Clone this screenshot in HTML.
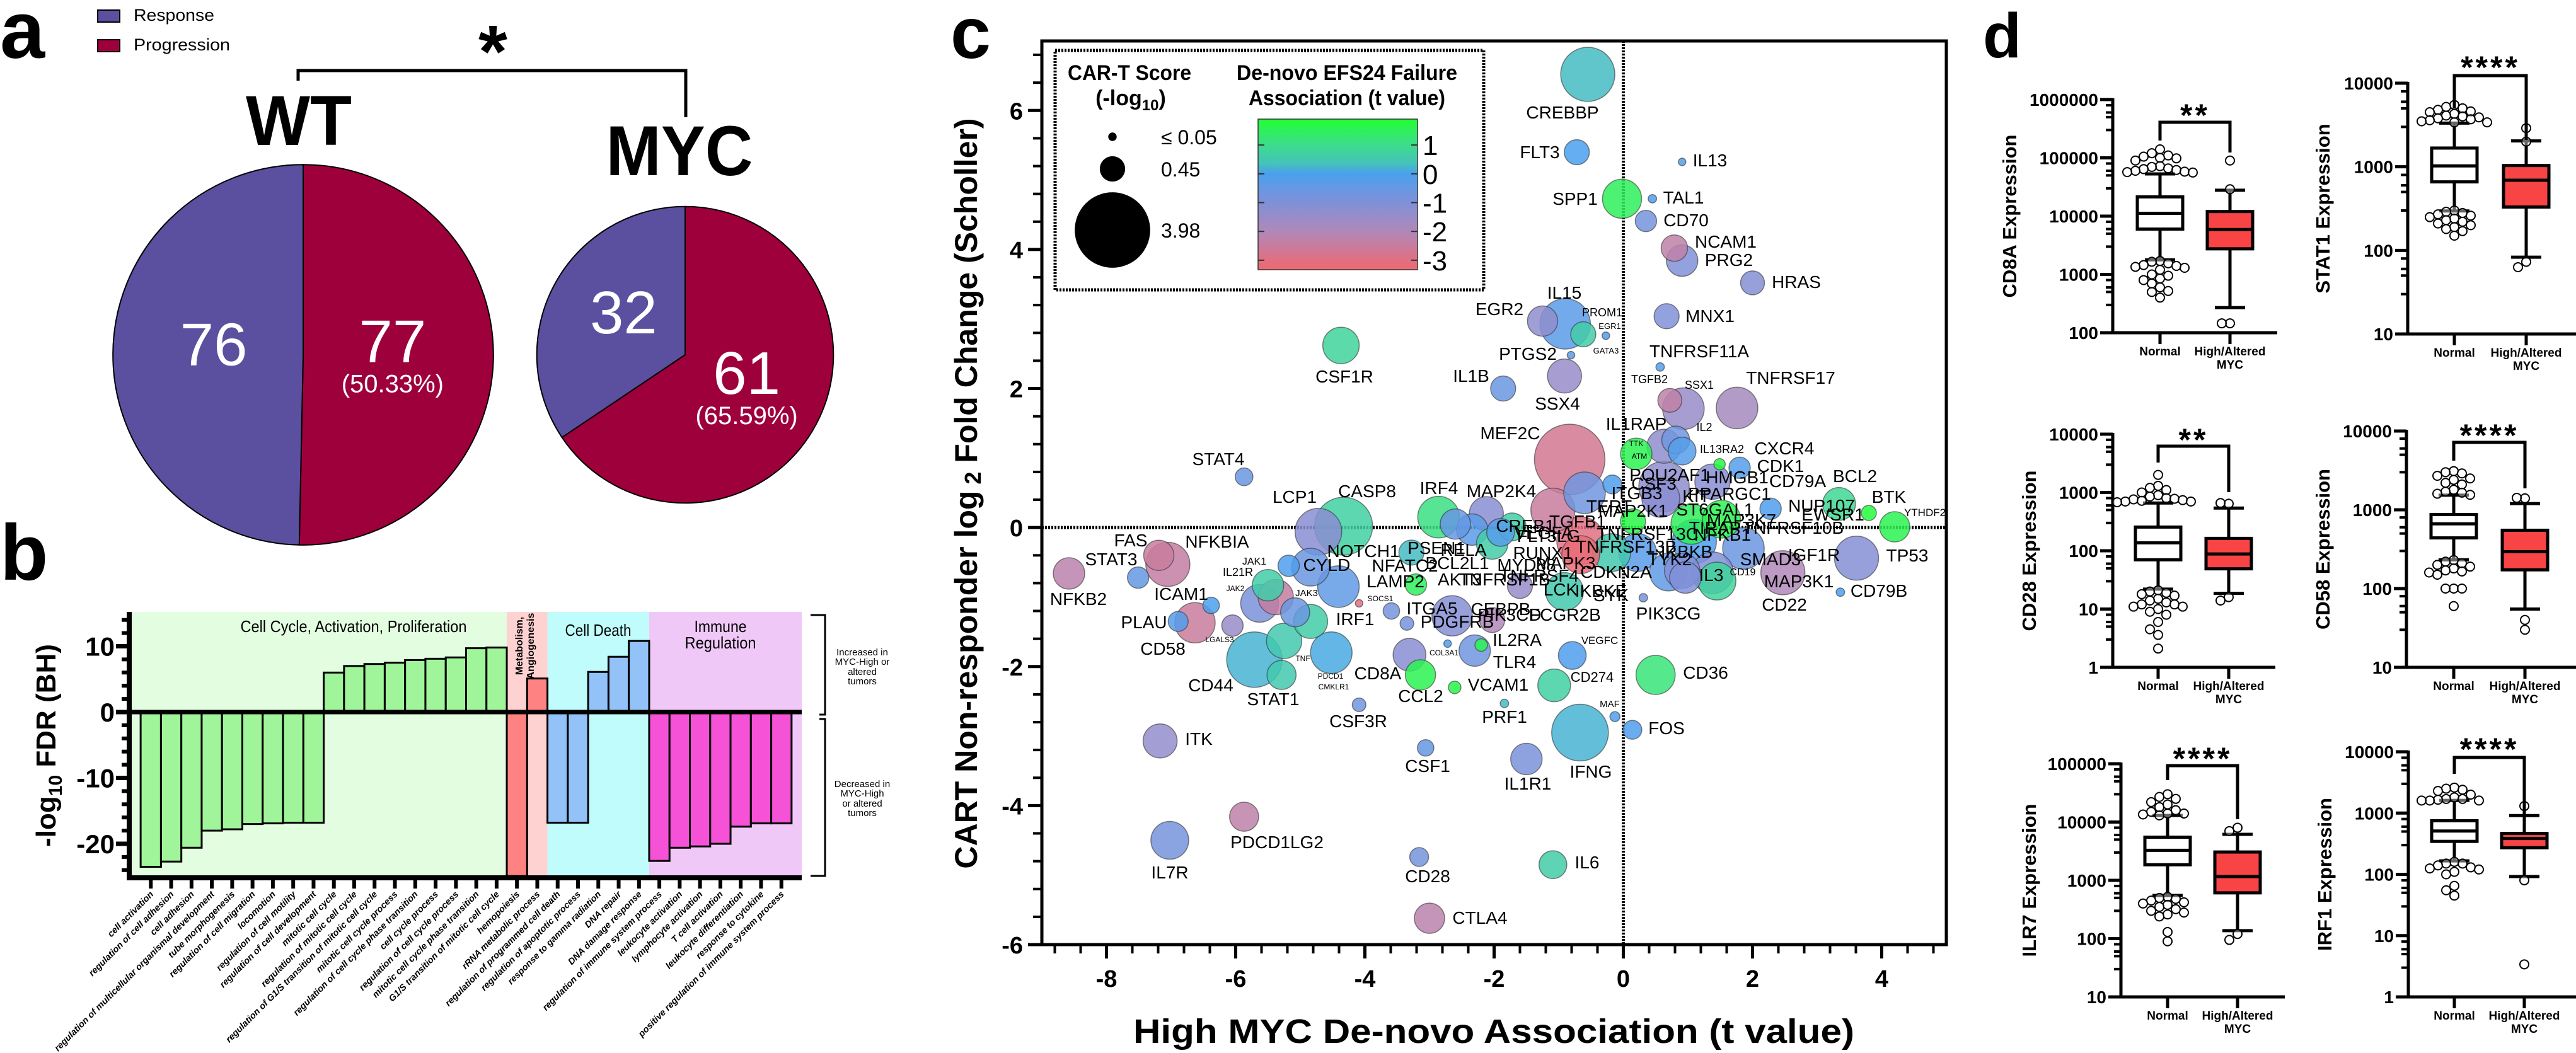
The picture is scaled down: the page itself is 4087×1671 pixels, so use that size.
<!DOCTYPE html>
<html><head><meta charset="utf-8"><title>MYC figure</title>
<style>
html,body{margin:0;padding:0;background:#fff;}
svg{display:block;font-family:"Liberation Sans",Arial,sans-serif;}
</style></head>
<body>
<svg id="fig" width="4087" height="1671" viewBox="0 0 4087 1671" xmlns="http://www.w3.org/2000/svg">
<defs>
<linearGradient id="cbar" x1="0" y1="0" x2="0" y2="1">
<stop offset="0" stop-color="#22ff33"/>
<stop offset="0.172" stop-color="#3ddc8c"/>
<stop offset="0.29" stop-color="#44c4b8"/>
<stop offset="0.363" stop-color="#4aa0ee"/>
<stop offset="0.554" stop-color="#8090d8"/>
<stop offset="0.746" stop-color="#b088b8"/>
<stop offset="1" stop-color="#f06870"/>
</linearGradient>
</defs>
<rect x="0" y="0" width="4087" height="1671" fill="#fff"/>

<!-- Panel a static -->
<g>
<text x="0" y="92" font-size="128" font-weight="bold">a</text>
<rect x="155" y="16" width="35" height="19" fill="#5b4f9f" stroke="#000" stroke-width="2"/>
<text x="212" y="33" font-size="27" textLength="128" lengthAdjust="spacingAndGlyphs">Response</text>
<rect x="155" y="63" width="35" height="19" fill="#9e003c" stroke="#000" stroke-width="2"/>
<text x="212" y="80" font-size="27" textLength="153" lengthAdjust="spacingAndGlyphs">Progression</text>
<text x="782" y="122" font-size="118" font-weight="bold" text-anchor="middle">*</text>
<path d="M473 128 V112 H1088 V186" fill="none" stroke="#000" stroke-width="5"/>
<text x="474" y="230" font-size="112" font-weight="bold" text-anchor="middle" textLength="168" lengthAdjust="spacingAndGlyphs">WT</text>
<text x="1078" y="278" font-size="112" font-weight="bold" text-anchor="middle" textLength="233" lengthAdjust="spacingAndGlyphs">MYC</text>
<g id="pies"></g>
</g>

<!-- Panel b static -->
<g>
<text x="0" y="920" font-size="125" font-weight="bold">b</text>
<g id="bchart"></g>
<text transform="translate(88,1183) rotate(-90)" font-size="44" font-weight="bold" text-anchor="middle">-log<tspan font-size="30" dy="10">10</tspan><tspan dy="-10"> FDR (BH)</tspan></text>
<path d="M1286 976 H1309 V1134 H1300 M1300 1141 H1309 V1390 H1286" fill="none" stroke="#000" stroke-width="3"/>
<g font-size="15" text-anchor="middle">
<text x="1368" y="1040">Increased in</text><text x="1368" y="1055">MYC-High or</text><text x="1368" y="1071">altered</text><text x="1368" y="1086">tumors</text>
</g>
<g font-size="15" text-anchor="middle">
<text x="1368" y="1249">Decreased in</text><text x="1368" y="1264">MYC-High</text><text x="1368" y="1280">or altered</text><text x="1368" y="1295">tumors</text>
</g>
</g>

<!-- Panel c static -->
<g>
<text x="1508" y="92" font-size="115" font-weight="bold">c</text>
<g id="cchart"></g>
<text x="2370" y="1655" font-size="54" font-weight="bold" text-anchor="middle" textLength="1144" lengthAdjust="spacingAndGlyphs">High MYC De-novo Association (t value)</text>
<text transform="translate(1550,783) rotate(-90)" font-size="50" font-weight="bold" text-anchor="middle">CART Non-responder log<tspan font-size="36" dy="6"> 2</tspan><tspan dy="-6"> Fold Change (Scholler)</tspan></text>
<rect x="1674" y="80" width="680" height="380" fill="#fff" stroke="#000" stroke-width="5" stroke-dasharray="3 2"/>
<text x="1792" y="127" font-size="34" font-weight="bold" text-anchor="middle" textLength="196" lengthAdjust="spacingAndGlyphs">CAR-T Score</text>
<text x="1794" y="167" font-size="34" font-weight="bold" text-anchor="middle">(-log<tspan font-size="24" dy="8">10</tspan><tspan dy="-8">)</tspan></text>
<text x="2137" y="127" font-size="34" font-weight="bold" text-anchor="middle" textLength="350" lengthAdjust="spacingAndGlyphs">De-novo EFS24 Failure</text>
<text x="2137" y="167" font-size="34" font-weight="bold" text-anchor="middle" textLength="312" lengthAdjust="spacingAndGlyphs">Association (t value)</text>
<rect x="1996" y="189" width="253" height="239" fill="url(#cbar)" stroke="#333" stroke-width="1.5"/>
<g id="clegend"></g>
</g>

<!-- Panel d static -->
<g>
<text x="3146" y="91" font-size="100" font-weight="bold">d</text>
<g id="dcharts"></g>
</g>
</svg>

<script>
// ================= DATA =================
// Panel a
const pieGroups = ['WT', 'MYC'];
const pieResponse = [76, 32];
const pieProgression = [77, 61];

// Panel b
const pathwayNames = ['cell activation','regulation of cell adhesion','cell adhesion','regulation of multicellular organismal development','tube morphogenesis','regulation of cell migration','locomotion','regulation of cell motility','regulation of cell development','mitotic cell cycle','regulation of mitotic cell cycle','regulation of G1/S transition of mitotic cell cycle','mitotic cell cycle process','regulation of cell cycle phase transition','cell cycle process','regulation of cell cycle process','mitotic cell cycle phase transition','G1/S transition of mitotic cell cycle','hemopoiesis','rRNA metabolic process','regulation of programmed cell death','regulation of apoptotic process','response to gamma radiation','DNA repair','DNA damage response','regulation of immune system process','leukocyte activation','lymphocyte activation','T cell activation','leukocyte differentiation','response to cytokine','positive regulation of immune system process'];
const pathwayValues = [-23.5,-22.7,-20.6,-18,-17.8,-17,-16.9,-16.8,-16.8,6,7,7.3,7.5,7.9,8.1,8.3,9.7,9.8,-24.9,5.1,-16.8,-16.8,6.1,8.4,10.8,-22.6,-20.6,-20.4,-20,-17.4,-16.9,-16.9];
const groupNames = ['Cell Cycle, Activation, Proliferation','Metabolism, Angiogenesis','Cell Death','Immune Regulation'];
const groupSizes = [18, 2, 5, 7];
const bYTicks = [-20, -10, 0, 10];

// Panel c
const geneNames = ['CREBBP','FLT3','SPP1','CSF1R','EGR2','IL15','PROM1','EGR1','PTGS2','SSX4','IL1B','STAT4','MEF2C','TTK','LCP1','CASP8','IRF4','MAP2K4','NFKB2','FAS','NFKBIA','STAT3','ICAM1','CD58','PLAU','LGALS3','JAK1','IL21R','JAK2','TNFAIP3','JAK3','IL10','CYLD','NOTCH1','STAT1','CD44','TNF','PDCD1','SOCS1','IRF1','PDGFRB','ITGA5','CD8A','CCL2','VCAM1','COL3A1','TLR4','IL2RA','CD274','CD40','PRF1','CSF3R','MAF','IFNG','FOS','CD36','ITK','CSF1','IL1R1','PDCD1LG2','IL7R','CD28','IL6','CTLA4','LAMP2','IL13','TAL1','CD70','NCAM1','PRG2','HRAS','MNX1','TNFRSF11A','SSX1','IL2RG','TNFRSF17','IL1RAP','IL2','IL13RA1','IL13RA2','CDK1','BCL2','BTK','YTHDF2','TP53','CD79B','MAP3K1','PIK3CG','NUP107','POU2AF1','HMGB1','CD22','IKBKB','IL3','CD19','ST6GAL1','MAP3K7','TIRAP','ITGB3','TERT','MYC','KIT','FLT3LG','VEGFA','CREB1','RUNX1','MYD88','LCK','TNFRSF1B','CEBPB','PIK3CD','TLR9','PPARG','CSF3','IGF1R','SMAD3','AKT3','NOTCH2'];
const geneT = [-0.55,-0.72,-0.02,-4.37,-1.25,-0.9,-0.62,-0.27,-0.81,-0.91,-1.86,-5.87,-0.83,0.2,-4.72,-4.33,-2.86,-2.12,-8.58,-7.19,-7.05,-7.51,-6.38,-6.63,-6.89,-6.05,-5.18,-5.63,-5.5,-5.38,-5.08,-4.84,-4.84,-4.41,-5.25,-5.71,-5.29,-4.52,-4.09,-3.59,-3.35,-2.65,-3.31,-3.14,-2.61,-2.72,-2.3,-2.2,-0.79,-1.07,-1.84,-4.09,-0.13,-0.67,0.14,0.5,-7.17,-3.06,-1.5,-5.87,-7.02,-3.16,-1.09,-3.0,-3.21,0.91,0.45,0.35,0.79,0.91,2.0,0.67,0.57,0.72,0.93,1.76,0.63,0.81,0.91,1.49,1.8,3.34,3.8,4.2,3.61,3.36,2.47,0.31,2.28,0.63,1.38,1.86,0.91,1.38,1.45,1.1,1.05,1.52,0.22,-0.18,-1.09,-0.6,-0.66,-0.66,-2.34,-1.72,-2.03,-1.9,-0.91,-1.6,-2.03,0.15,0.58,-0.17,0.7,0.96,-2.6,-3.28];
const geneFC = [6.52,5.4,4.73,2.62,2.97,2.93,2.78,2.76,2.48,2.18,2.0,0.73,0.98,1.06,-0.06,0.02,0.15,0.2,-0.66,-0.4,-0.53,-0.72,-1.12,-1.37,-1.35,-1.41,-0.55,-1.09,-0.83,-1.0,-1.22,-1.35,-0.57,-0.85,-1.63,-1.9,-2.12,-1.8,-1.09,-1.2,-1.38,-1.27,-1.83,-2.12,-2.3,-1.67,-1.77,-1.69,-1.84,-2.27,-2.53,-2.55,-2.72,-2.95,-2.91,-2.12,-3.07,-3.17,-3.33,-4.16,-4.5,-4.74,-4.85,-5.62,-0.82,5.26,4.73,4.41,4.02,3.84,3.52,3.04,2.31,1.83,1.71,1.72,1.17,1.26,1.1,0.91,0.86,0.34,0.21,0.01,-0.44,-0.93,-0.65,-1.01,0.27,0.59,0.66,-0.3,-0.62,-0.65,-0.77,-0.2,0.05,0.12,-0.36,-0.36,0.25,0.5,-0.19,-0.39,-0.03,0.01,-0.23,-0.07,-0.92,-0.84,-1.33,0.09,0.42,0.62,-0.64,-0.72,0.05,-0.36];
const geneScore = [2.05,0.44,1.07,0.93,0.64,1.78,0.44,0.04,0.04,0.81,0.44,0.22,3.48,0.69,1.52,2.35,1.21,0.81,0.69,0.64,1.36,0.32,0.19,1.14,0.28,0.32,0.32,1.0,0.69,0.87,0.59,0.81,1.0,1.21,0.87,2.15,0.59,1.21,0.04,0.19,0.13,1.14,0.75,0.64,0.11,0.04,0.69,0.11,0.54,0.75,0.05,0.13,0.07,2.25,0.25,1.07,0.81,0.19,0.69,0.59,1.0,0.25,0.54,0.64,0.32,0.04,0.05,0.32,0.49,0.69,0.4,0.44,0.05,0.4,1.21,1.21,0.81,0.54,0.54,0.09,0.32,0.75,0.16,0.64,1.36,0.05,1.36,0.05,0.32,1.78,0.87,1.21,0.87,1.21,1.0,1.36,1.14,1.0,1.0,1.0,1.36,1.21,1.6,1.0,0.69,0.54,0.69,0.54,1.0,0.44,0.44,0.44,1.0,0.25,1.0,0.69,0.64,0.44];
const geneEFS = [0.3,0,1.5,0.8,-1.3,-0.3,0.6,-0.2,-0.3,-1.5,-0.6,-0.6,-2.7,1.6,-1.2,0.7,1.1,-1.2,-2.2,-2.5,-2.4,-0.5,0,-2.5,-0.2,-1.5,-0.1,-0.9,0.6,-2.4,-0.6,0.6,-0.6,-0.4,0.5,0.2,0.5,0.1,-3,-0.8,-0.8,-1.1,-1.2,1.6,1.7,-0.1,-0.7,1.6,-0.1,0.7,0.3,-0.7,-0.1,0.2,-0.1,1.2,-1.4,-0.5,-0.9,-2.3,-0.8,-0.8,0.6,-2.2,1.5,-0.2,-0.1,-0.8,-2.3,-1.0,-1.1,-1.0,-0.2,-2.3,-1.5,-1.8,-1.3,-0.7,-0.2,1.8,-0.2,0.9,1.8,1.6,-1.1,0,-2.0,-0.8,-0.1,-1.3,-1.2,-0.6,-1.0,-1.0,0.8,-0.1,1.5,1.6,-0.3,0.5,-2.5,-0.7,-3.0,-3.2,-0.3,0.6,0.6,-0.2,0.5,-1.5,-2.0,1.7,-1.2,-0.1,-0.4,-1.0,-0.5,0.3];
const cXTicks = [-8,-6,-4,-2,0,2,4];
const cYTicks = [-6,-4,-2,0,2,4,6];
const sizeLegendScores = [0.05, 0.45, 3.98];
const sizeLegendText = ['\u2264  0.05','0.45','3.98'];
const colorTicks = [1, 0, -1, -2, -3];

// Panel d (box stats: [lower whisker, Q1, median, Q3, upper whisker])
const dTitles = ['CD8A Expression','STAT1 Expression','CD28 Expression','CD58 Expression','ILR7 Expression','IRF1 Expression'];
const dStars = ['**','****','**','****','****','****'];
const cd8aNormal = [1780, 6000, 11200, 21400, 53000];
const cd8aMyc = [270, 2750, 5900, 12000, 27800];
const cd8aNormalOut = [140000,120000,110000,105000,100000,98000,90000,72000,70000,66000,64000,62000,60000,58000,57000,56000,1700,1650,1550,1450,1400,1350,1300,1200,1000,950,850,800,700,600,520,500,400];
const cd8aMycOut = [90000, 29000, 145, 145];
const stat1Normal = [296, 660, 1025, 1675, 3330];
const stat1Myc = [83, 330, 690, 1035, 2040];
const stat1NormalOut = [5500,5200,5000,4800,4600,4500,4300,4100,4000,3900,3800,3700,3600,3500,3400,3400,300,290,280,270,260,250,240,230,220,210,200,190,180,170,150];
const stat1MycOut = [2900, 2000, 73, 63];
const cd28Normal = [22, 70, 137, 255, 660];
const cd28Myc = [18.6, 49, 88, 163, 540];
const cd28NormalOut = [2000,1300,1200,1100,1000,900,850,800,780,760,740,720,700,700,680,21,20,19,18,17,15,14,13,12,12,11,11,10,9,8,6,4.5,3.6,2.1];
const cd28MycOut = [640, 660, 16, 14];
const cd58Normal = [232, 440, 663, 870, 1535];
const cd58Myc = [55, 173, 294, 550, 1200];
const cd58NormalOut = [3100,3000,2900,2700,2500,2400,2200,2100,1800,1700,1650,1600,1550,230,220,210,200,190,180,170,165,160,150,100,100,100,60];
const cd58MycOut = [1400, 1420, 40, 30];
const ilr7Normal = [550, 1850, 3270, 5500, 13000];
const ilr7Myc = [137, 610, 1160, 3060, 6150];
const ilr7NormalOut = [30000,27000,25000,22000,20000,18000,16000,15000,14000,14000,13500,13000,520,500,480,450,420,400,380,350,320,300,280,260,240,130,90];
const ilr7MycOut = [8000, 7000, 120, 95];
const irf1Normal = [166, 345, 510, 750, 1610];
const irf1Myc = [92, 272, 385, 465, 910];
const irf1NormalOut = [2600,2500,2400,2300,2000,1800,1700,1700,1650,1600,1600,1600,160,150,150,140,130,125,120,110,100,65,55,45];
const irf1MycOut = [1300, 80, 3.4];

// ================= HELPERS =================
const NS = 'http://www.w3.org/2000/svg';
function mk(tag, attrs, parent) {
  const e = document.createElementNS(NS, tag);
  for (const k in attrs) e.setAttribute(k, attrs[k]);
  parent.appendChild(e);
  return e;
}
function slug(s){return s.toLowerCase().replace(/[^a-z0-9]+/g,'-').replace(/^-|-$/g,'');}

// ================= PANEL A =================
(function(){
  const g = document.getElementById('pies');
  const centersX = [481, 1087];
  const centerY = 563;
  function pt(cx, cy, r, frac){const a=frac*2*Math.PI;return [cx+r*Math.sin(a), cy-r*Math.cos(a)];}
  pieGroups.forEach((name, i) => {
    const total = pieResponse[i] + pieProgression[i];
    const r = 24.4 * Math.sqrt(total);
    const cx = centersX[i];
    const fp = pieProgression[i] / total;
    const p1 = pt(cx, centerY, r, fp);
    const large = fp > 0.5 ? 1 : 0;
    let el = mk('path', {d:`M${cx} ${centerY} L${cx} ${centerY-r} A${r} ${r} 0 ${large} 1 ${p1[0]} ${p1[1]} Z`, fill:'#9e003c', stroke:'#000', 'stroke-width':2}, g);
    
    
    el = mk('path', {d:`M${cx} ${centerY} L${p1[0]} ${p1[1]} A${r} ${r} 0 ${1-large} 1 ${cx} ${centerY-r} Z`, fill:'#5b4f9f', stroke:'#000', 'stroke-width':2}, g);
    
    
    const mp = pt(cx, centerY, r*0.47, fp/2);
    const mr = pt(cx, centerY, r*0.47, fp + (1-fp)/2);
    el = mk('text', {x:mp[0], y:mp[1]+10, 'font-size':96, fill:'#fff', 'text-anchor':'middle'}, g);
    el.textContent = pieProgression[i];
    
    
    el = mk('text', {x:mp[0], y:mp[1]+58, 'font-size':40, fill:'#fff', 'text-anchor':'middle'}, g);
    el.textContent = '(' + (100*fp).toFixed(2) + '%)';
    
    
    el = mk('text', {x:mr[0], y:mr[1]+18, 'font-size':96, fill:'#fff', 'text-anchor':'middle'}, g);
    el.textContent = pieResponse[i];
    
    
  });
})();

// ================= PANEL B =================
(function(){
  const g = document.getElementById('bchart');
  const x0 = 207, x1 = 1272, yTop = 971, yBot = 1390;
  const n = pathwayValues.length;
  const slot = (x1 - x0) / (n + 1);
  const yv = v => 1130 - v * 10.45;
  const bx = i => x0 + slot/2 + i*slot;
  const bgFill = ['#e2fde0','#ffd2d2','#c0fcfc','#f0c8f8'];
  const barFill = ['#a0f59a','#ff8282','#92c2f8','#f552d8'];
  const grpOf = [];
  groupSizes.forEach((s, gi) => { for (let k=0;k<s;k++) grpOf.push(gi); });
  // backgrounds
  let start = 0;
  groupSizes.forEach((s, gi) => {
    const xa = gi===0 ? x0 : bx(start);
    const xb = gi===groupSizes.length-1 ? x1 : bx(start+s);
    const el = mk('rect', {x:xa, y:yTop, width:xb-xa, height:yBot-yTop, fill:bgFill[gi]}, g);
    
    
    start += s;
  });
  // bars
  pathwayValues.forEach((v, i) => {
    const ya = Math.min(yv(0), yv(v)), yb = Math.max(yv(0), yv(v));
    const el = mk('rect', {x:bx(i), y:ya, width:slot, height:yb-ya, fill:barFill[grpOf[i]], stroke:'#000', 'stroke-width':3}, g);
    
    
  });
  // zero line
  let el = mk('line', {x1:x0, x2:x1, y1:yv(0), y2:yv(0), stroke:'#000', 'stroke-width':7}, g);
  
  
  // axes
  el = mk('line', {x1:205, x2:205, y1:yTop, y2:yBot+7, stroke:'#000', 'stroke-width':8}, g);
  
  
  el = mk('line', {x1:201, x2:x1, y1:yBot+3, y2:yBot+3, stroke:'#000', 'stroke-width':8}, g);
  
  
  for (let v=-24; v<=14; v+=2) {
    const major = v % 10 === 0;
    el = mk('line', {x1:major?184:193, x2:205, y1:yv(v), y2:yv(v), stroke:'#000', 'stroke-width':major?7:6}, g);
    
    
  }
  bYTicks.forEach(v => {
    el = mk('text', {x:182, y:yv(v)+15, 'font-size':42, 'font-weight':'bold', 'text-anchor':'end'}, g);
    el.textContent = String(v);
    
    
  });
  pathwayNames.forEach((name, i) => {
    const cx = bx(i) + slot/2;
    el = mk('line', {x1:cx, x2:cx, y1:yBot+5, y2:yBot+20, stroke:'#000', 'stroke-width':6}, g);
    
    
    el = mk('text', {transform:`translate(${cx+5},${yBot+30}) rotate(-45)`, 'font-size':14.5, 'font-style':'italic', 'font-weight':'bold', 'text-anchor':'end'}, g);
    el.textContent = name;
    
    
  });
  // group titles
  el = mk('text', {x:561, y:1003, 'font-size':26, 'text-anchor':'middle', textLength:359, lengthAdjust:'spacingAndGlyphs'}, g);
  el.textContent = groupNames[0];
  
  
  el = mk('text', {transform:'translate(829,1025) rotate(-90)', 'font-size':16, 'font-weight':'bold', 'text-anchor':'middle'}, g);
  el.textContent = 'Metabolism,';
  
  
  el = mk('text', {transform:'translate(847,1025) rotate(-90)', 'font-size':16, 'font-weight':'bold', 'text-anchor':'middle'}, g);
  el.textContent = 'Angiogenesis';
  
  
  el = mk('text', {x:949, y:1009, 'font-size':26, 'text-anchor':'middle', textLength:105, lengthAdjust:'spacingAndGlyphs'}, g);
  el.textContent = 'Cell Death';
  
  
  el = mk('text', {x:1143, y:1003, 'font-size':26, 'text-anchor':'middle', textLength:83, lengthAdjust:'spacingAndGlyphs'}, g);
  el.textContent = 'Immune';
  
  
  el = mk('text', {x:1143, y:1029, 'font-size':26, 'text-anchor':'middle', textLength:113, lengthAdjust:'spacingAndGlyphs'}, g);
  el.textContent = 'Regulation';
  
  
})();

// ================= PANEL C =================
const cLabelLayout = [
 ['CREBBP',2479,188,28],['FLT3',2443,251,28],['SPP1',2499,325,28],['CSF1R',2133,607,28],['EGR2',2379,500,28],['IL15',2482,474,28],
 ['PROM1',2542,502,18],['EGR1',2554,522,13],['GATA3',2548,561,13],['PTGS2',2424,571,28],['IL1B',2334,606,28],['SSX4',2471,650,28],
 ['TGFB2',2617,608,18],['MEF2C',2396,697,28],['IL1RAP',2596,682,28],['STAT4',1933,738,28],['LCP1',2054,798,28],['CASP8',2169,789,28],
 ['IRF4',2283,784,28],['MAP2K4',2382,789,28],['TTK',2596,708,12],['ATM',2601,728,12],
 ['NFKB2',1711,960,28],['FAS',1794,867,28],['NFKBIA',1931,869,28],['STAT3',1763,897,28],['ICAM1',1874,952,28],['PLAU',1815,997,28],
 ['CD58',1845,1039,28],['LGALS3',1935,1019,12],['JAK1',1990,896,16],['IL21R',1964,914,18],['JAK2',1960,938,12],['JAK3',2073,946,15],
 ['SOCS1',2190,954,12],['TNF',2067,1049,12],['PDCD1',2111,1077,12],['CMKLR1',2116,1094,12],['CD44',1921,1097,28],['STAT1',2020,1119,28],
 ['IRF1',2150,992,28],['ITGA5',2272,975,28],['PDGFRB',2312,996,28],['CD8A',2186,1078,28],['COL3A1',2291,1040,12],['IL2RA',2407,1025,28],
 ['TLR4',2403,1060,28],['VEGFC',2538,1022,17],['CD274',2526,1082,22],['CCL2',2254,1114,28],['VCAM1',2377,1096,28],['PRF1',2387,1147,28],
 ['CSF3R',2155,1154,28],['MAF',2554,1122,15],['FOS',2644,1165,28],['IFNG',2524,1234,28],['IL1R1',2424,1253,28],['CSF1',2265,1225,28],
 ['ITK',1902,1182,28],['PDCD1LG2',2026,1346,28],['IL7R',1856,1394,28],['CD28',2265,1400,28],['IL6',2518,1378,28],['CTLA4',2348,1466,28],
 ['LAMP2',2214,932,28],['AKT3',2316,929,28],['RUNX1',2448,887,28],['CYLD',2105,906,28],['NFATC2',2229,907,28],['NOTCH1',2163,884,28],
 ['PSEN1',2279,879,28],['RELA',2322,882,28],['BCL2L1',2312,903,28],['MYD88',2422,906,28],['TNFRSF1B',2387,929,28],['CREB1',2420,844,28],
 ['VEGFA',2449,855,28],['FLT3LG',2457,860,28],['LCK',2476,945,28],['IKBKE',2540,947,28],['SYK',2556,954,28],['FCGR2B',2483,985,28],
 ['CEBPB',2381,976,28],['PIK3CD',2395,985,28],
 ['IL13',2713,264,28],['TAL1',2671,323,28],['CD70',2675,359,28],['NCAM1',2738,393,28],['PRG2',2743,422,28],['HRAS',2850,457,28],
 ['MNX1',2713,511,28],['TNFRSF11A',2696,567,28],['SSX1',2696,617,18],['TNFRSF17',2841,609,28],['IL2',2704,684,18],['IL13RA2',2732,719,18],
 ['CXCR4',2831,721,28],['CDK1',2825,749,28],['POU2AF1',2649,763,28],['HMGB1',2756,767,28],['CD79A',2852,773,28],['BCL2',2943,765,28],
 ['CSF3',2624,777,28],['ITGB3',2597,792,28],['KIT',2691,797,28],['PPARGC1',2744,793,28],['BTK',2997,798,28],['YTHDF2',3054,819,17],
 ['NUP107',2890,812,28],['ST6GAL1',2721,818,28],['EWSR1',2908,826,28],['MAP3K7',2763,835,28],['TNFRSF10B',2845,847,28],['TIRAP',2721,847,28],
 ['NFKB1',2733,858,28],['TERT',2553,813,28],['MAP2K1',2591,820,28],['TNFRSF13C',2614,857,28],['TNFRSF13B',2580,877,28],['TGFB1',2503,837,28],
 ['TYK2',2649,897,28],['MAPK3',2484,903,28],['CDKN2A',2564,917,28],['TNFRSF4',2442,923,28],
 ['TP53',3026,891,28],['IGF1R',2878,890,28],['IKBKB',2676,885,28],['SMAD3',2809,897,28],['MAP3K1',2854,932,28],['CD79B',2981,947,28],
 ['CD22',2831,969,28],['PIK3CG',2647,983,28],['IL3',2715,922,28],['CD19',2765,913,16],['CD36',2706,1077,28]
];
(function(){
  const g = document.getElementById('cchart');
  const L = 1653, R = 3088, T = 65, B = 1499;
  const xd = [-9, 5], yd = [-6, 7];
  const sx = v => L + (v - xd[0]) / (xd[1]-xd[0]) * (R - L);
  const sy = v => B - (v - yd[0]) / (yd[1]-yd[0]) * (B - T);
  const rs = s => 30 * Math.sqrt(s);
  const stops = [[1.9,[34,255,51]],[1.0,[61,220,140]],[0.38,[68,196,184]],[0.0,[74,160,238]],[-1,[128,144,216]],[-2,[176,136,184]],[-3.33,[240,104,112]]];
  function tcol(t){
    if (t >= stops[0][0]) return 'rgb('+stops[0][1].join(',')+')';
    for (let i=0;i<stops.length-1;i++){
      const a=stops[i], b=stops[i+1];
      if (t <= a[0] && t >= b[0]) {
        const f=(a[0]-t)/(a[0]-b[0]);
        return 'rgb('+a[1].map((c,k)=>Math.round(c+(b[1][k]-c)*f)).join(',')+')';
      }
    }
    return 'rgb('+stops[stops.length-1][1].join(',')+')';
  }
  // frame
  let el = mk('rect', {x:L, y:T, width:R-L, height:B-T, fill:'none', stroke:'#000', 'stroke-width':5}, g);
  
  
  // reference lines
  el = mk('line', {x1:L, x2:R, y1:sy(0), y2:sy(0), stroke:'#000', 'stroke-width':5, 'stroke-dasharray':'3 2'}, g);
  
  
  el = mk('line', {x1:sx(0), x2:sx(0), y1:T, y2:B, stroke:'#000', 'stroke-width':5, 'stroke-dasharray':'3 2'}, g);
  
  
  // ticks
  for (let k=-25; k<=12; k++) {
    const v = k*0.4;
    if (v < xd[0]-1e-6 || v > xd[1]+1e-6) continue;
    const major = Math.abs(v/2 - Math.round(v/2)) < 1e-6;
    el = mk('line', {x1:sx(v), x2:sx(v), y1:B, y2:B+(major?22:14), stroke:'#000', 'stroke-width':major?5:4}, g);
    
    
  }
  for (let k=-15; k<=17; k++) {
    const v = k*0.4;
    if (v < yd[0]-1e-6 || v > yd[1]+1e-6) continue;
    const major = Math.abs(v/2 - Math.round(v/2)) < 1e-6;
    el = mk('line', {x1:L-(major?22:14), x2:L, y1:sy(v), y2:sy(v), stroke:'#000', 'stroke-width':major?5:4}, g);
    
    
  }
  cXTicks.forEach(v => {
    el = mk('text', {x:sx(v), y:B+67, 'font-size':38, 'font-weight':'bold', 'text-anchor':'middle'}, g);
    el.textContent = String(v);
    
    
  });
  cYTicks.forEach(v => {
    el = mk('text', {x:L-30, y:sy(v)+14, 'font-size':38, 'font-weight':'bold', 'text-anchor':'end'}, g);
    el.textContent = String(v);
    
    
  });
  // bubbles (big first)
  const order = geneNames.map((_, i) => i).sort((a, b) => geneScore[b] - geneScore[a]);
  const bg = mk('g', {}, g);
  
  
  order.forEach(i => {
    const c = mk('circle', {cx:sx(geneT[i]), cy:sy(geneFC[i]), r:rs(geneScore[i]), fill:tcol(geneEFS[i]), 'fill-opacity':0.85, stroke:'#333', 'stroke-opacity':0.6, 'stroke-width':1.5}, bg);
    
    
  });
  // labels
  const lg = mk('g', {}, g);
  
  
  cLabelLayout.forEach(l => {
    const t = mk('text', {x:l[1], y:l[2], 'font-size':l[3], 'text-anchor':'middle'}, lg);
    t.textContent = l[0];
    
    
  });
  // legend items
  const cl = document.getElementById('clegend');
  const legY = [217, 268, 365];
  sizeLegendScores.forEach((s, i) => {
    el = mk('circle', {cx:1765, cy:legY[i], r:rs(s), fill:'#000'}, cl);
    
    
    el = mk('text', {x:1842, y:legY[i]+12, 'font-size':32}, cl);
    el.textContent = sizeLegendText[i];
    
    
  });
  const cbY = t => 189 + (1.9 - t) / 5.23 * 239;
  colorTicks.forEach(t => {
    el = mk('line', {x1:1996, x2:2006, y1:cbY(t), y2:cbY(t), stroke:'#333', 'stroke-width':2}, cl);
    
    
    el = mk('line', {x1:2239, x2:2249, y1:cbY(t), y2:cbY(t), stroke:'#333', 'stroke-width':2}, cl);
    
    
    el = mk('text', {x:2257, y:cbY(t)+16, 'font-size':44}, cl);
    el.textContent = String(t);
    
    
  });
})();

// ================= PANEL D =================
const dLayout = [
 {ax:3352, top:158, bot:528, dTop:6, dBot:2, xEnd:3613, c1:3427, c2:3538, br:194, l1:223, l2:242, st:172, lx:3188, box:[cd8aNormal,cd8aMyc], out:[cd8aNormalOut,cd8aMycOut]},
 {ax:3820, top:132, bot:530, dTop:4, dBot:1, xEnd:4087, c1:3894, c2:4008, br:120, l1:172, l2:222, st:96, lx:3685, box:[stat1Normal,stat1Myc], out:[stat1NormalOut,stat1MycOut]},
 {ax:3352, top:689, bot:1059, dTop:4, dBot:0, xEnd:3610, c1:3424, c2:3536, br:708, l1:734, l2:781, st:687, lx:3219, box:[cd28Normal,cd28Myc], out:[cd28NormalOut,cd28MycOut]},
 {ax:3818, top:684, bot:1059, dTop:4, dBot:1, xEnd:4087, c1:3893, c2:4006, br:702, l1:731, l2:775, st:680, lx:3685, box:[cd58Normal,cd58Myc], out:[cd58NormalOut,cd58MycOut]},
 {ax:3365, top:1212, bot:1582, dTop:5, dBot:1, xEnd:3625, c1:3439, c2:3550, br:1215, l1:1238, l2:1300, st:1193, lx:3219, box:[ilr7Normal,ilr7Myc], out:[ilr7NormalOut,ilr7MycOut]},
 {ax:3821, top:1193, bot:1582, dTop:4, dBot:0, xEnd:4087, c1:3894, c2:4005, br:1202, l1:1228, l2:1298, st:1178, lx:3688, box:[irf1Normal,irf1Myc], out:[irf1NormalOut,irf1MycOut]}
];
(function(){
  const root = document.getElementById('dcharts');
  dLayout.forEach((p, pi) => {
    const g = mk('g', {}, root);
    
    
    const ys = v => p.bot - (Math.log10(v) - p.dBot) / (p.dTop - p.dBot) * (p.bot - p.top);
    let el = mk('line', {x1:p.ax, x2:p.ax, y1:p.top-2, y2:p.bot+2, stroke:'#000', 'stroke-width':5}, g);
    
    
    el = mk('line', {x1:p.ax-2, x2:p.xEnd, y1:p.bot, y2:p.bot, stroke:'#000', 'stroke-width':5}, g);
    
    
    for (let d = p.dBot; d <= p.dTop; d++) {
      const v = Math.pow(10, d);
      el = mk('line', {x1:p.ax-20, x2:p.ax, y1:ys(v), y2:ys(v), stroke:'#000', 'stroke-width':5}, g);
      
      
      el = mk('text', {x:p.ax-23, y:ys(v)+10, 'font-size':28, 'font-weight':'bold', 'text-anchor':'end'}, g);
      el.textContent = String(v);
      
      
      if (d < p.dTop) {
        [3,5,6,8].forEach(m => {
          el = mk('line', {x1:p.ax-11, x2:p.ax, y1:ys(v*m), y2:ys(v*m), stroke:'#000', 'stroke-width':4}, g);
          
          
        });
      }
    }
    const centers = [p.c1, p.c2];
    const cats = ['Normal', 'High/Altered'];
    centers.forEach((c, ci) => {
      el = mk('line', {x1:c, x2:c, y1:p.bot, y2:p.bot+18, stroke:'#000', 'stroke-width':5}, g);
      
      
      el = mk('text', {x:c, y:p.bot+36, 'font-size':19, 'font-weight':'bold', 'text-anchor':'middle'}, g);
      el.textContent = cats[ci];
      
      
      const b = p.box[ci];
      el = mk('line', {x1:c, x2:c, y1:ys(b[4]), y2:ys(b[0]), stroke:'#000', 'stroke-width':5}, g);
      
      
      [b[0], b[4]].forEach(w => {
        el = mk('line', {x1:c-24, x2:c+24, y1:ys(w), y2:ys(w), stroke:'#000', 'stroke-width':5}, g);
        
        
      });
      el = mk('rect', {x:c-36, y:ys(b[3]), width:72, height:ys(b[1])-ys(b[3]), fill:ci===0?'#fff':'#f84444', stroke:'#000', 'stroke-width':5}, g);
      
      
      el = mk('line', {x1:c-36, x2:c+36, y1:ys(b[2]), y2:ys(b[2]), stroke:'#000', 'stroke-width':5}, g);
      
      
      // outliers beeswarm
      const pts = [];
      const vals = p.out[ci].slice();
      vals.forEach(v => {
        const y = ys(v);
        const offs = [0,-13,13,-26,26,-39,39,-52,52,-65,65];
        let chosen = 0;
        for (const o of offs) {
          if (pts.every(q => Math.hypot(q[0]-o, q[1]-y) >= 12.5)) { chosen = o; break; }
        }
        pts.push([chosen, y]);
        el = mk('circle', {cx:c+chosen, cy:y, r:7, fill:'#fff', 'fill-opacity':0.4, stroke:'#000', 'stroke-width':2}, g);
        
        
      });
    });
    el = mk('text', {x:p.c2, y:p.bot+57, 'font-size':19, 'font-weight':'bold', 'text-anchor':'middle'}, g);
    el.textContent = 'MYC';
    
    
    el = mk('path', {d:`M${p.c1} ${p.l1} V${p.br} H${p.c2} V${p.l2}`, fill:'none', stroke:'#000', 'stroke-width':5}, g);
    
    
    el = mk('text', {x:(p.c1+p.c2)/2, y:p.st+28, 'font-size':50, 'font-weight':'bold', 'text-anchor':'middle', 'letter-spacing':4}, g);
    el.textContent = dStars[pi];
    
    
    el = mk('text', {transform:`translate(${p.lx+11},${(p.top+p.bot)/2}) rotate(-90)`, 'font-size':31, 'font-weight':'bold', 'text-anchor':'middle'}, g);
    el.textContent = dTitles[pi];
    
    
  });
})();
</script>
</body></html>
